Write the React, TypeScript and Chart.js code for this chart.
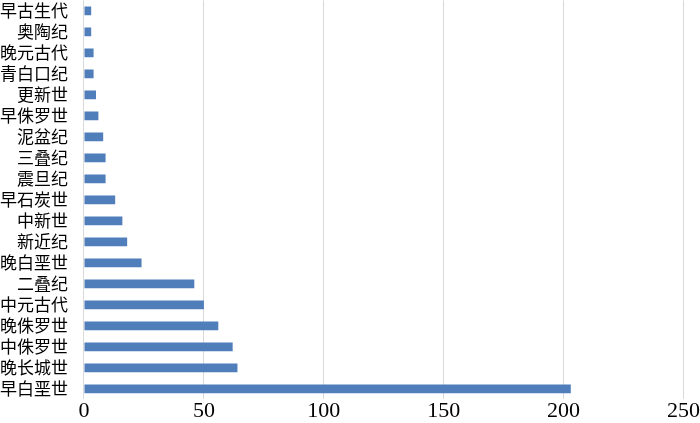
import React, { useEffect, useRef } from "react";
import { Chart, registerables } from "chart.js";

Chart.register(...registerables);

const categories = [
  "早古生代", "奥陶纪", "晚元古代", "青白口纪", "更新世", "早侏罗世", "泥盆纪",
  "三叠纪", "震旦纪", "早石炭世", "中新世", "新近纪", "晚白垩世", "二叠纪",
  "中元古代", "晚侏罗世", "中侏罗世", "晚长城世", "早白垩世",
];
const counts = [3, 3, 4, 4, 5, 6, 8, 9, 9, 13, 16, 18, 24, 46, 50, 56, 62, 64, 203];
const xMin = 0;
const xMax = 250;
const xStep = 50;

export default function App() {
  const ref = useRef<HTMLCanvasElement | null>(null);
  useEffect(() => {
    document.body.style.margin = "0";
    const ctx = ref.current!.getContext("2d")!;
    const chart = new Chart(ctx, {
      type: "bar",
      data: {
        labels: categories,
        datasets: [
          {
            data: counts,
            backgroundColor: "#4f7ebb",
            borderWidth: 0,
            barPercentage: 0.41,
            categoryPercentage: 1,
          },
        ],
      },
      options: {
        indexAxis: "y",
        animation: false,
        responsive: false,
        maintainAspectRatio: false,
        layout: { padding: { top: 0, right: 0, bottom: 0, left: 0 } },
        plugins: { legend: { display: false }, tooltip: { enabled: false } },
        scales: {
          x: {
            min: xMin,
            max: xMax,
            afterFit: (scale: any) => {
              scale.paddingRight = Math.max(0, (scale.paddingRight || 0) - 3);
            },
            ticks: {
              stepSize: xStep,
              color: "#000",
              padding: 3,
              font: { family: "'Liberation Serif', 'Times New Roman', serif", size: 22, lineHeight: 0.8 },
            },
            grid: { color: "#d9d9d9", lineWidth: 1, drawTicks: false },
            border: { display: false },
          },
          y: {
            ticks: {
              color: "#000",
              padding: 0,
              autoSkip: false,
              font: { family: "'Noto Sans CJK SC', sans-serif", size: 17, lineHeight: 0.05 },
            },
            grid: {
              display: true,
              drawOnChartArea: false,
              drawTicks: true,
              tickLength: 16,
              tickColor: "rgba(0,0,0,0)",
              color: "rgba(0,0,0,0)",
            },
            border: { display: false },
          },
        },
      },
    });
    return () => chart.destroy();
  }, []);
  return (
    <div style={{ position: "absolute", left: 0, top: 0, width: 700, height: 423, background: "#fff" }}>
      <canvas ref={ref} width={700} height={423} style={{ width: 700, height: 423 }} />
    </div>
  );
}
